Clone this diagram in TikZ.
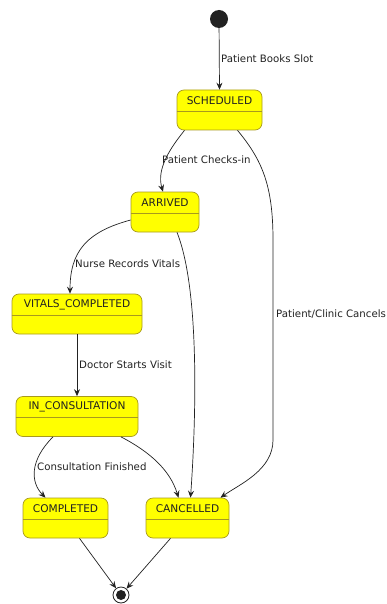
\documentclass[tikz,border=0pt]{standalone}
\usepackage{fontspec}
\setmainfont{DejaVu Sans}
\usetikzlibrary{arrows.meta,calc}
\definecolor{stfill}{HTML}{FFFF00}
\definecolor{stline}{HTML}{A89A1E}
\definecolor{ink}{HTML}{222222}
\tikzset{
  state/.style={draw=stline, fill=stfill, rounded corners=7pt, line width=0.7pt,
    minimum width=#1, minimum height=40pt, inner sep=0pt},
  stname/.style={font=\fontsize{10.6}{12}\selectfont, text=ink},
  trans/.style={draw=ink, line width=0.7pt, -{Stealth[length=7pt,width=6pt,inset=2.5pt]}},
  tlabel/.style={font=\fontsize{10.2}{12}\selectfont, text=ink, anchor=west, inner sep=0pt},
}
\newcommand{\divider}[1]{\draw[stline, line width=0.7pt] ([yshift=-1pt]#1.west) -- ([yshift=-1pt]#1.east);}
\begin{document}
\begin{tikzpicture}[x=1pt,y=-1pt]
\useasboundingbox[fill=white] (0,0) rectangle (386,604);

% start and end pseudo-states
\node[circle, fill=ink, minimum size=18pt, inner sep=0pt] (init) at (219,19) {};
\node[circle, draw=ink, line width=0.8pt, fill=white, minimum size=16pt, inner sep=0pt] (final) at (121,595) {};
\node[circle, fill=ink, minimum size=10pt, inner sep=0pt] (finaldot) at (final.center) {};

% states
\node[state=85pt,  label={[stname,yshift=9.5pt]center:SCHEDULED}] (sched) at (219.5,110) {};
\node[state=68pt,  label={[stname,yshift=9.5pt]center:ARRIVED}] (arr) at (165,212) {};
\node[state=130pt, label={[stname,yshift=9.5pt]center:VITALS\_COMPLETED}] (vit) at (77,314) {};
\node[state=122pt, label={[stname,yshift=9.5pt]center:IN\_CONSULTATION}] (cons) at (77,416.5) {};
\node[state=85pt,  label={[stname,yshift=9.5pt]center:COMPLETED}] (done) at (65.5,518) {};
\node[state=83pt,  label={[stname,yshift=9.5pt]center:CANCELLED}] (canc) at (187.5,518) {};
\divider{sched}\divider{arr}\divider{vit}\divider{cons}\divider{done}\divider{canc}

% transitions
\draw[trans] (init) -- (sched.north);
\node[tlabel] (l1) at (221,59) {Patient Books Slot};

\draw[trans] ([xshift=-35pt]sched.south) .. controls (172,146) and (156,168) .. ([xshift=-2pt]arr.north);
\node[tlabel] (l2) at (162,160) {Patient Checks-in};

\draw[trans] ([xshift=18pt]sched.south) .. controls (262,160) and (273,185) .. (273,240)
  -- (273,440) .. controls (273,470) and (240,484) .. ([xshift=33pt]canc.north);
\node[tlabel] (l3) at (276,314) {Patient/Clinic Cancels};

\draw[trans] ([yshift=-8pt]arr.west) .. controls (86,232) and (70,252) .. ([xshift=-7pt]vit.north);
\node[tlabel] (l4) at (75,264) {Nurse Records Vitals};

\draw[trans] ([xshift=12pt]arr.south) .. controls (200,290) and (196,420) .. ([xshift=3pt]canc.north);

\draw[trans] (vit.south) -- (cons.north);
\node[tlabel] (l5) at (79,365) {Doctor Starts Visit};

\draw[trans] ([xshift=-24pt]cons.south) .. controls (30,460) and (30,482) .. ([xshift=-20pt]done.north);
\node[tlabel] (l6) at (37,467) {Consultation Finished};

\draw[trans] ([xshift=44pt]cons.south) .. controls (150,452) and (170,470) .. ([xshift=-9pt]canc.north);

\draw[trans] ([xshift=14pt]done.south) -- (final);
\draw[trans] ([xshift=-17pt]canc.south) -- (final);
\end{tikzpicture}
\end{document}
